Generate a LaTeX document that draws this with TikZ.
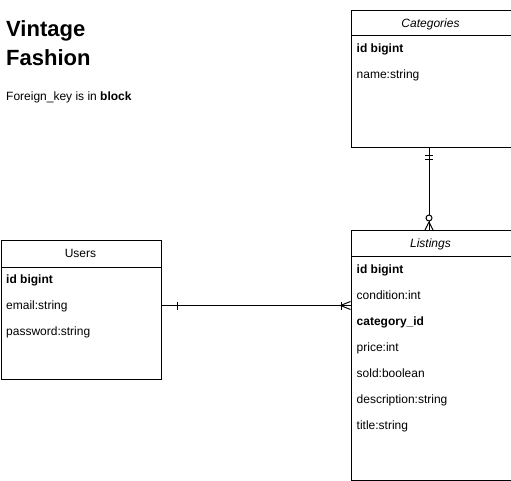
\documentclass[tikz,border=0pt]{standalone}
\usepackage{fontspec}
\setmainfont{Liberation Sans}
\usetikzlibrary{calc}
\begin{document}
\begin{tikzpicture}[x=1pt,y=-1pt,
  tbl/.style={draw,line width=1pt,minimum width=160pt,anchor=north west,inner sep=0pt,fill=white},
  row/.style={anchor=base west,font=\fontsize{12}{14}\selectfont,inner sep=0pt},
  rowb/.style={row,font=\fontsize{12}{14}\selectfont\bfseries},
  hdr/.style={anchor=base,font=\fontsize{12}{14}\selectfont,inner sep=0pt},
  hdri/.style={hdr,font=\fontsize{12}{14}\selectfont\itshape},
  ttl/.style={anchor=base west,inner sep=0pt,font=\fontsize{22}{29}\selectfont\bfseries},
  conn/.style={line width=1pt},
  erm/.style={line width=1pt}]
\useasboundingbox (0,0) rectangle (511,481);

% title
\node[ttl] (title1) at (6,37) {Vintage};
\node[ttl] (title2) at (6,66) {Fashion};
\node[anchor=base west,inner sep=0pt,font=\fontsize{12}{14}\selectfont] (note) at (6,101) {Foreign\_key is in \textbf{block}};

% Categories
\node[tbl,minimum height=137pt] (cat) at (350.5,10) {};
\draw[line width=1pt] ($(cat.north west)+(0,26)$) -- ($(cat.north east)+(0,26)$);
\node[hdri] (cath) at (430.5,27.3) {Categories};
\node[rowb] (cat1) at (356.5,52.3) {id bigint};
\node[row] (cat2) at (356.5,79) {name:string};

% Listings
\node[tbl,minimum height=250pt] (list) at (350.5,230) {};
\draw[line width=1pt] ($(list.north west)+(0,26)$) -- ($(list.north east)+(0,26)$);
\node[hdri] (listh) at (430.5,247.3) {Listings};
\node[rowb] (l1) at (356.5,273.5) {id bigint};
\node[row]  (l2) at (356.5,299.5) {condition:int};
\node[rowb] (l3) at (356.5,325.5) {category\_id};
\node[row]  (l4) at (356.5,351.5) {price:int};
\node[row]  (l5) at (356.5,377.5) {sold:boolean};
\node[row]  (l6) at (356.5,403.5) {description:string};
\node[row]  (l7) at (356.5,429.5) {title:string};

% Users
\node[tbl,minimum height=139pt] (users) at (0.5,240) {};
\draw[line width=1pt] ($(users.north west)+(0,27)$) -- ($(users.north east)+(0,27)$);
\node[hdr] (usersh) at (80.5,257.3) {Users};
\node[rowb] (u1) at (6,283.5) {id bigint};
\node[row]  (u2) at (6,309.5) {email:string};
\node[row]  (u3) at (6,335.5) {password:string};

% Categories -> Listings (one mandatory to zero-or-many)
\coordinate (a1) at ($(cat.south)+(-2,0)$);
\coordinate (a2) at ($(list.north)+(-2,0)$);
\draw[conn] (a1) -- (a2);
\draw[erm] ($(a1)+(-4,8)$) -- ($(a1)+(4,8)$);
\draw[erm] ($(a1)+(-4,12)$) -- ($(a1)+(4,12)$);
\draw[erm,fill=white] ($(a2)+(0,-12)$) circle (3pt);
\draw[erm] ($(a2)+(0,-8)$) -- ($(a2)+(-4,0)$);
\draw[erm] ($(a2)+(0,-8)$) -- ($(a2)+(4,0)$);

% Users -> Listings (one to many)
\coordinate (b1) at ($(users.east)+(0,-4.5)$);
\coordinate (b2) at (b1 -| list.west);
\draw[conn] (b1) -- (b2);
\draw[erm] ($(b1)+(16,-4)$) -- ($(b1)+(16,4)$);
\draw[erm] ($(b2)+(-9,-4)$) -- ($(b2)+(-9,4)$);
\draw[erm] ($(b2)+(-10,0)$) -- ($(b2)+(0,-4)$);
\draw[erm] ($(b2)+(-10,0)$) -- ($(b2)+(0,4)$);
\end{tikzpicture}
\end{document}
